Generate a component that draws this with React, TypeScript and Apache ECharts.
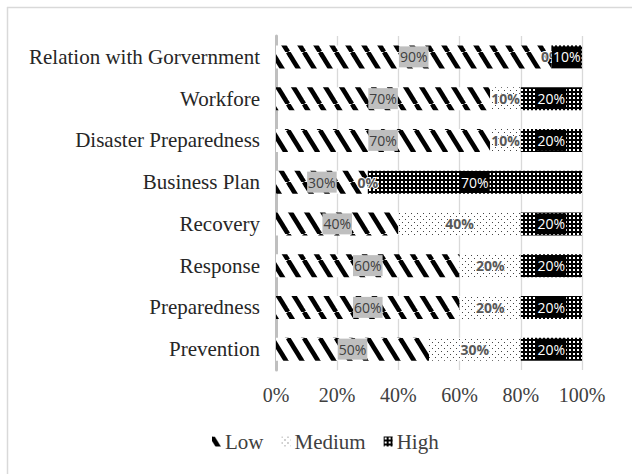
import React, { useEffect, useRef } from "react";
import * as echarts from "echarts";

const categories = [
  "Prevention",
  "Preparedness",
  "Response",
  "Recovery",
  "Business Plan",
  "Disaster Preparedness",
  "Workfore",
  "Relation with Gorvernment",
];
const lowValues = [50, 60, 60, 40, 30, 70, 70, 90];
const mediumValues = [30, 20, 20, 40, 0, 10, 10, 0];
const highValues = [20, 20, 20, 20, 70, 20, 20, 10];
const xTicks = [0, 20, 40, 60, 80, 100];

function makeCanvas(w: number, h: number, draw: (ctx: CanvasRenderingContext2D) => void) {
  const c = document.createElement("canvas");
  c.width = w;
  c.height = h;
  const ctx = c.getContext("2d")!;
  draw(ctx);
  return c;
}

function lowPattern() {
  const w = 16;
  const h = 26;
  const c = makeCanvas(w, h, (ctx) => {
    ctx.fillStyle = "#fff";
    ctx.fillRect(0, 0, w, h);
    ctx.strokeStyle = "#000";
    ctx.lineWidth = 4.6;
    for (let k = -1; k <= 1; k++) {
      ctx.beginPath();
      ctx.moveTo(k * w, 0);
      ctx.lineTo(k * w + w, h);
      ctx.stroke();
    }
  });
  return { image: c, repeat: "repeat", imageWidth: w, imageHeight: h } as any;
}

function mediumPattern() {
  const s = 6;
  const c = makeCanvas(s, s, (ctx) => {
    ctx.fillStyle = "#fff";
    ctx.fillRect(0, 0, s, s);
    ctx.fillStyle = "#444";
    ctx.fillRect(0, 0, 1, 1);
    ctx.fillRect(3, 3, 1, 1);
  });
  return { image: c, repeat: "repeat", imageWidth: s, imageHeight: s } as any;
}

function highPattern() {
  const s = 4;
  const c = makeCanvas(s, s, (ctx) => {
    ctx.fillStyle = "#000";
    ctx.fillRect(0, 0, s, s);
    ctx.fillStyle = "#fff";
    ctx.fillRect(1, 1, 2, 2);
  });
  return { image: c, repeat: "repeat", imageWidth: s, imageHeight: s } as any;
}

const serif = "'Liberation Serif', 'Times New Roman', serif";
const sans = "'Open Sans', 'Noto Sans', sans-serif";

export default function App() {
  const ref = useRef<HTMLDivElement>(null);
  useEffect(() => {
    const chart = echarts.init(ref.current!, null, { renderer: "svg" });
    const labelBase = {
      show: true,
      position: "inside",
      fontFamily: sans,
      fontSize: 14,
      formatter: "{c}%",
    };
    chart.setOption({
      animation: false,
      backgroundColor: "#fff",
      graphic: [
        {
          type: "line",
          shape: { x1: 7, y1: 7.5, x2: 632, y2: 7.5 },
          style: { stroke: "#d9d9d9", lineWidth: 1.5 },
          silent: true,
        },
        {
          type: "line",
          shape: { x1: 7.5, y1: 7, x2: 7.5, y2: 474 },
          style: { stroke: "#d9d9d9", lineWidth: 1.5 },
          silent: true,
        },
      ],
      grid: { left: 276, right: 50, top: 36, bottom: 104, containLabel: false },
      legend: {
        top: 426,
        left: 207,
        itemWidth: 9,
        itemHeight: 10,
        itemGap: 18,
        icon: "rect",
        textStyle: { fontFamily: serif, fontSize: 21, color: "#404040", padding: [0, 0, 0, -1] },
        data: ["Low", "Medium", "High"],
      },
      xAxis: {
        type: "value",
        min: 0,
        max: 100,
        interval: 20,
        axisLine: { show: false },
        axisTick: { show: false },
        splitLine: { lineStyle: { color: "#d9d9d9", width: 1.3 } },
        axisLabel: {
          fontFamily: serif,
          fontSize: 20,
          color: "#404040",
          margin: 15,
          formatter: (v: number) => (xTicks.includes(v) ? v + "%" : ""),
        },
      },
      yAxis: {
        type: "category",
        data: categories,
        axisLine: { show: true, lineStyle: { color: "#bfbfbf", width: 3 } },
        axisTick: { show: false },
        axisLabel: { fontFamily: serif, fontSize: 21, color: "#262626", margin: 16 },
      },
      series: [
        {
          name: "Low",
          type: "bar",
          stack: "total",
          barWidth: 23,
          data: lowValues,
          itemStyle: { color: lowPattern() },
          label: {
            ...labelBase,
            color: "#404040",
            backgroundColor: "#bfbfbf",
            textBorderWidth: 0,
            padding: [4, 1, 3, 1],
          },
        },
        {
          name: "Medium",
          type: "bar",
          stack: "total",
          barWidth: 23,
          data: mediumValues,
          itemStyle: { color: mediumPattern() },
          label: {
            ...labelBase,
            color: "#595959",
            fontWeight: "bold",
            textBorderColor: "#fff",
            textBorderWidth: 2,
          },
        },
        {
          name: "High",
          type: "bar",
          stack: "total",
          barWidth: 23,
          data: highValues,
          itemStyle: { color: highPattern() },
          label: {
            ...labelBase,
            color: "#fff",
            backgroundColor: "#000",
            textBorderWidth: 0,
            padding: [4, 1, 3, 1],
          },
        },
      ],
    });
    return () => chart.dispose();
  }, []);
  return (
    <div
      ref={ref}
      style={{ position: "fixed", left: 0, top: 0, width: 632, height: 474 }}
    />
  );
}
